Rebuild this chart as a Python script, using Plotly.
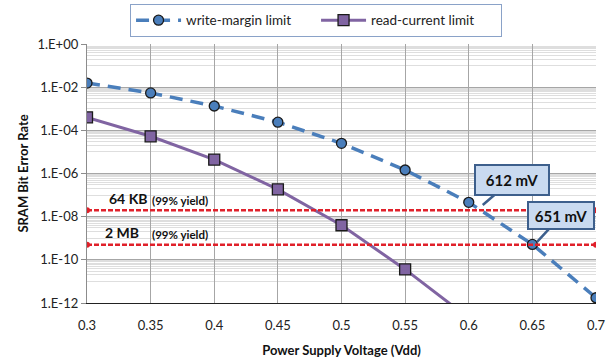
import math
import plotly.graph_objects as go

vdd = [0.3, 0.35, 0.4, 0.45, 0.5, 0.55, 0.6, 0.65, 0.7]
write_margin = [1.55e-2, 5.4e-3, 1.34e-3, 2.4e-4, 2.5e-5, 1.45e-6, 4.6e-8, 5.2e-10, 1.75e-12]
vdd_read = [0.3, 0.35, 0.4, 0.45, 0.5, 0.55, 0.6]
read_current = [4.0e-4, 5.3e-5, 4.4e-6, 1.85e-7, 4.0e-9, 3.6e-11, 2.0e-13]
yield_x = [0.3, 0.7]
ber_64kb = 2.0e-8
ber_2mb = 5.0e-10
ytick_vals = [1e0, 1e-2, 1e-4, 1e-6, 1e-8, 1e-10, 1e-12]
ytick_text = ["1.E+00", "1.E-02", "1.E-04", "1.E-06", "1.E-08", "1.E-10", "1.E-12"]
xtick_vals = [0.3, 0.35, 0.4, 0.45, 0.5, 0.55, 0.6, 0.65, 0.7]
xtick_text = ["0.3", "0.35", "0.4", "0.45", "0.5", "0.55", "0.6", "0.65", "0.7"]

minor_vals = [k * 10.0 ** (-2 * j - 1) for j in range(6) for k in range(1, 10)]

FONT = "Lato"
BLUE = "#4a7ebb"
PURPLE = "#8064a2"
RED = "#e0202a"
BORDER = "#3d5f8c"

fig = go.Figure()
fig.add_trace(go.Scatter(
    x=vdd, y=write_margin, name="write-margin limit", mode="lines+markers",
    line=dict(color=BLUE, width=3.5, dash="13px,8px"),
    marker=dict(symbol="circle", size=10, color=BLUE, line=dict(color="#1a1a1a", width=1.3)),
))
fig.add_trace(go.Scatter(
    x=vdd_read, y=read_current, name="read-current limit", mode="lines+markers",
    line=dict(color=PURPLE, width=3),
    marker=dict(symbol="square", size=11, color=PURPLE, line=dict(color="#1a1a1a", width=1.3)),
))
for val in (ber_64kb, ber_2mb):
    fig.add_trace(go.Scatter(
        x=yield_x, y=[val, val], mode="lines+markers", showlegend=False,
        line=dict(color=RED, width=2.5, dash="5px,2px"),
        marker=dict(symbol="circle", size=6, color=RED),
    ))

annots = []
annots.append(dict(x=0.3157, y=math.log10(ber_64kb), yshift=12, text="<b>64 KB</b>", showarrow=False,
                   xanchor="left", font=dict(family=FONT, size=14, color="#111")))
annots.append(dict(x=0.3495, y=math.log10(ber_64kb), yshift=10, text="<b>(99% yield)</b>", showarrow=False,
                   xanchor="left", font=dict(family=FONT, size=11.5, color="#111")))
annots.append(dict(x=0.3126, y=math.log10(ber_2mb), yshift=12, text="<b>2 MB</b>", showarrow=False,
                   xanchor="left", font=dict(family=FONT, size=14, color="#111")))
annots.append(dict(x=0.3495, y=math.log10(ber_2mb), yshift=10, text="<b>(99% yield)</b>", showarrow=False,
                   xanchor="left", font=dict(family=FONT, size=11.5, color="#111")))
annots.append(dict(x=0.611, y=-7.46, ax=29, ay=-25, text="<b>612 mV</b>", showarrow=True,
                   arrowhead=0, arrowwidth=2.5, arrowcolor=BORDER,
                   bgcolor="#c9daf0", bordercolor=BORDER, borderwidth=2, borderpad=3,
                   width=66, height=22,
                   font=dict(family=FONT, size=15, color="#111")))
annots.append(dict(x=0.6537, y=-9.17, ax=24, ay=-26, text="<b>651 mV</b>", showarrow=True,
                   arrowhead=0, arrowwidth=2.5, arrowcolor=BORDER,
                   bgcolor="#c9daf0", bordercolor=BORDER, borderwidth=2, borderpad=3,
                   width=58, height=19,
                   font=dict(family=FONT, size=15, color="#111")))

fig.update_layout(
    width=608, height=361,
    margin=dict(l=87, r=12, t=44, b=58, autoexpand=False),
    paper_bgcolor="white", plot_bgcolor="white",
    font=dict(family=FONT, size=12, color="#222"),
    showlegend=True,
    legend=dict(orientation="h", x=0.45, y=1.155, xanchor="center", yanchor="top",
                bordercolor="#8aa2c8", borderwidth=1, bgcolor="white",
                entrywidth=125, itemwidth=45,
                font=dict(family=FONT, size=13.5, color="#222")),
    annotations=annots,
)
fig.update_xaxes(
    range=[0.3, 0.7], tickvals=xtick_vals, ticktext=xtick_text,
    showgrid=True, gridcolor="#a6a6a6", gridwidth=1.2,
    showline=True, linecolor="#222", linewidth=1.3,
    ticks="outside", ticklen=10, tickcolor="rgba(0,0,0,0)",
    tickfont=dict(family=FONT, size=13, color="#222"),
    title=dict(text="<b>Power Supply Voltage (Vdd)</b>", font=dict(family=FONT, size=13, color="#111"), standoff=14),
    zeroline=False,
)
fig.update_yaxes(
    type="log", range=[-12, 0], tickvals=ytick_vals, ticktext=ytick_text,
    showgrid=True, gridcolor="#a6a6a6", gridwidth=1.2,
    showline=True, linecolor="#8c8c8c", linewidth=1.3,
    ticks="outside", ticklen=5, tickcolor="#8c8c8c",
    tickfont=dict(family=FONT, size=13, color="#222"),
    minor=dict(tickmode="array", tickvals=minor_vals, showgrid=True, gridcolor="#dedede", gridwidth=1, ticks=""),
    title=dict(text="<b>SRAM Bit Error Rate</b>", font=dict(family=FONT, size=13, color="#111"), standoff=5),
    zeroline=False,
)

fig.write_html("out.html", config={"displayModeBar": False},
               post_script="document.body.style.margin='0';document.body.style.overflow='hidden';")
